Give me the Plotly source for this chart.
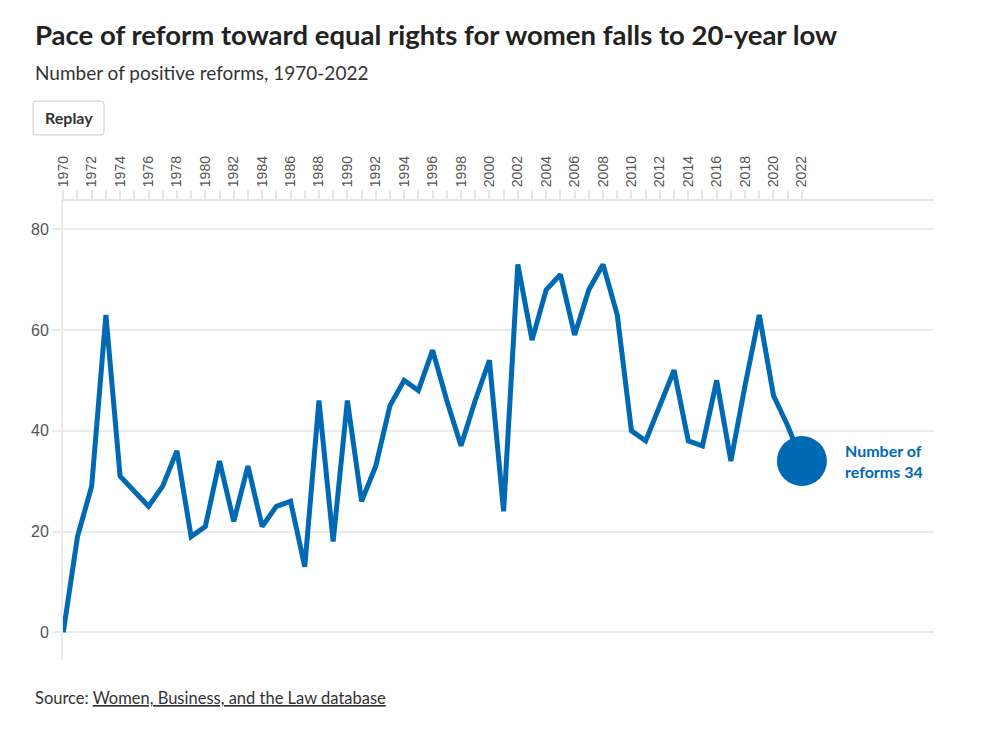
import plotly.graph_objects as go

years = list(range(1970, 2023))
reforms = [0, 19, 29, 63, 31, 28, 25, 29, 36, 19, 21, 34, 22, 33, 21, 25, 26, 13,
           46, 18, 46, 26, 33, 45, 50, 48, 56, 46, 37, 46, 54, 24, 73, 58, 68, 71,
           59, 68, 73, 63, 40, 38, 45, 52, 38, 37, 50, 34, 49, 63, 47, 41, 34]
y_ticks = [0, 20, 40, 60, 80]
x_tick_labels = [str(y) if (y - 1970) % 2 == 0 else "" for y in years]

title = "Pace of reform toward equal rights for women falls to 20-year low"
subtitle = "Number of positive reforms, 1970-2022"
source_label = "Source: "
source_link = "Women, Business, and the Law database"
end_label = "Number of<br>reforms " + str(reforms[-1])

BLUE = "#0069b4"
GRID = "#ebebeb"
OFF = 8  # page body margin
W, H = 990 - 2 * OFF, 732 - 2 * OFF
ML, MT = 63 - OFF, 201 - OFF
MR, MB = W - (934 - OFF), H - (660 - OFF)
PW, PH = W - ML - MR, H - MT - MB


def px(x):
    return (x - OFF - ML) / PW


def py(y):
    return (H - MB - (y - OFF)) / PH


fig = go.Figure()
fig.add_trace(go.Scatter(
    x=years, y=reforms, mode="lines",
    line=dict(color=BLUE, width=5, shape="linear"),
    hoverinfo="x+y", showlegend=False, cliponaxis=False,
))
fig.add_trace(go.Scatter(
    x=years[-1:], y=reforms[-1:], mode="markers",
    marker=dict(color=BLUE, size=50, line=dict(width=0)),
    showlegend=False, cliponaxis=False,
))

fig.update_layout(
    width=W, height=H,
    margin=dict(l=ML, r=MR, t=MT, b=MB, pad=0),
    paper_bgcolor="white", plot_bgcolor="white",
    font=dict(family="Lato, sans-serif", color="#333"),
    xaxis=dict(
        side="top", range=[1969.98, 2031.3], tickmode="array", tickvals=years,
        ticktext=x_tick_labels,
        tickangle=-90, ticks="outside", ticklen=9, tickwidth=2, tickcolor="#e6e6e6",
        showgrid=False, zeroline=False, showline=True, linecolor="#e6e6e6", linewidth=2,
        tickfont=dict(family="Liberation Sans, Arial, sans-serif", size=14, color="#555"),
        fixedrange=True,
    ),
    yaxis=dict(
        range=[-5.5, 85.6], tickvals=y_ticks, ticks="outside", ticklen=9, tickwidth=2,
        tickcolor=GRID, showgrid=True, gridcolor=GRID, gridwidth=2, zeroline=False,
        showline=True, linecolor=GRID, linewidth=2,
        tickfont=dict(family="Liberation Sans, Arial, sans-serif", size=16, color="#555"),
        fixedrange=True,
    ),
)

annotations = [
    dict(text="<b>" + title + "</b>", x=px(33), y=py(34), xref="paper", yref="paper",
         xanchor="left", yanchor="middle", showarrow=False,
         font=dict(family="Lato, sans-serif", size=27.5, color="#222")),
    dict(text=subtitle, x=px(33), y=py(72), xref="paper", yref="paper",
         xanchor="left", yanchor="middle", showarrow=False,
         font=dict(family="Lato, sans-serif", size=19, color="#333")),
    dict(text="<b>Replay</b>", x=px(68.5), y=py(118), xref="paper", yref="paper",
         xanchor="center", yanchor="middle", showarrow=False,
         font=dict(family="Lato, sans-serif", size=16, color="#333")),
    dict(text=source_label + "<u>" + source_link + "</u>", x=px(33), y=py(698),
         xref="paper", yref="paper", xanchor="left", yanchor="middle", showarrow=False,
         font=dict(family="Lato, sans-serif", size=16.5, color="#333")),
    dict(text="<b>" + end_label + "</b>", x=years[-1], y=reforms[-1], xref="x", yref="y",
         xshift=41, xanchor="left", yanchor="middle", align="left", showarrow=False,
         font=dict(family="Lato, sans-serif", size=16, color=BLUE)),
]
fig.update_layout(annotations=annotations)

fig.add_shape(type="path",
              path="M {a},{b} L {c},{b} Q {d},{b} {d},{e} L {d},{f} Q {d},{g} {c},{g} L {a},{g} Q {h},{g} {h},{f} L {h},{e} Q {h},{b} {a},{b} Z".format(
                  a=px(36), c=px(101), d=px(104), h=px(33), b=py(101), e=py(104), f=py(132), g=py(135)),
              xref="paper", yref="paper", line=dict(color="#cccccc", width=1), fillcolor="white",
              layer="below")

fig.write_html("out.html", include_plotlyjs=True, config={"displayModeBar": False})
